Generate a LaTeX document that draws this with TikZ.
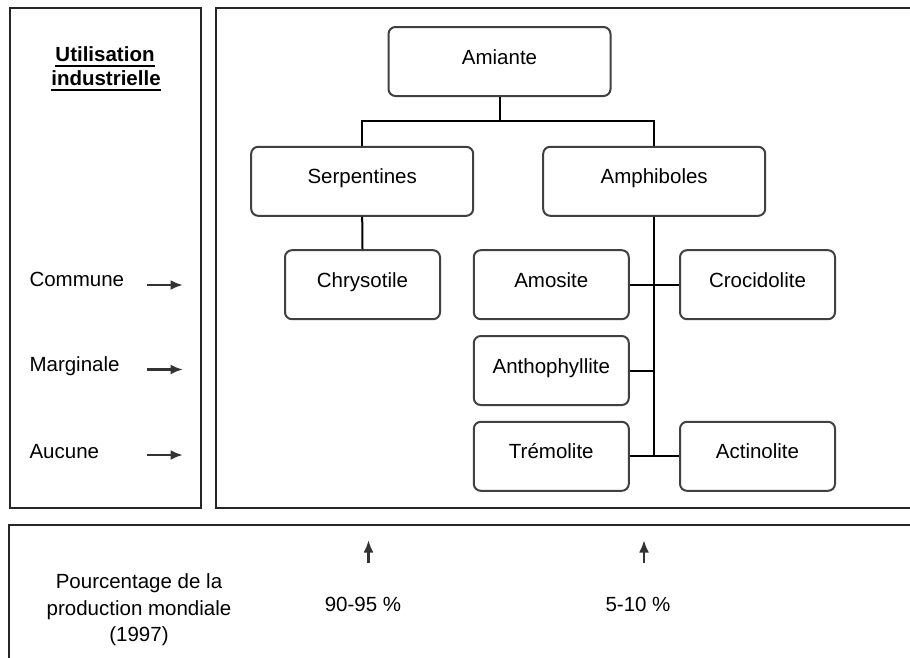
\documentclass[tikz,border=0pt]{standalone}
\usepackage{fontspec}
\setmainfont{Liberation Sans}
\usetikzlibrary{arrows.meta,calc}

% body text size used throughout the chart
\newcommand\chartfont{\fontsize{20.5}{26}\selectfont}
% underlined word with the rule set a little below the baseline
\newcommand\ulword[1]{\setbox0\hbox{#1}\rlap{\rule[-5pt]{\wd0}{1.6pt}}\box0}

\tikzset{
  frame/.style={draw=black!85, line width=2.2pt},
  species/.style={draw=black!75, line width=2pt, rounded corners=7pt,
    minimum height=69pt, inner sep=0pt, text height=15pt, text depth=10pt},
  widebox/.style={species, minimum width=222pt},
  narrowbox/.style={species, minimum width=155pt},
  link/.style={draw=black, line width=2pt},
  pointer/.style={draw=black!80, line width=2.4pt, -{Latex[length=12.5pt,width=10pt]}}
}

\begin{document}
\begin{tikzpicture}[x=1pt, y=-1pt, every node/.append style={font=\chartfont}]
  \useasboundingbox (0,0) rectangle (910,657);
  \clip (0,0) rectangle (910,657);

  % panels
  \draw[frame] (10,8) rectangle (201,508);
  \draw[frame] (216,8) rectangle (930,508);
  \draw[frame] (9,525) rectangle (930,690);

  % industrial use scale
  \node[anchor=base, font=\chartfont\bfseries] (head1) at (105,61.5) {\ulword{Utilisation}};
  \node[anchor=base, font=\chartfont\bfseries] (head2) at (106,85.5) {\ulword{industrielle}};

  \node[anchor=base west] (commune) at (26,286.5) {Commune};
  \node[anchor=base west] (marginale) at (26,371.5) {Marginale};
  \node[anchor=base west] (aucune) at (26,458) {Aucune};

  \coordinate (c1) at (147,285);   \coordinate (c2) at (183,285);
  \coordinate (m1) at (147,369.5); \coordinate (m2) at (183,369.5);
  \coordinate (a1) at (147,455);   \coordinate (a2) at (183,455);
  \draw[pointer] (c1) -- (c2);
  \draw[pointer] (m1) -- (m2);
  \draw[pointer] (a1) -- (a2);

  % asbestos family tree
  \node[widebox] (amiante) at (499.5,61.5) {Amiante};
  \node[widebox] (serp) at (362.2,181.3) {Serpentines};
  \node[widebox] (amph) at (654.2,181.3) {Amphiboles};

  \node[narrowbox] (chrys) at (362.5,284.7) {Chrysotile};
  \node[narrowbox] (amos) at (551.3,284.7) {Amosite};
  \node[narrowbox] (croc) at (757.5,284.7) {Crocidolite};
  \node[narrowbox] (antho) at (551.3,370.5) {Anthophyllite};
  \node[narrowbox] (trem) at (551.3,456.3) {Trémolite};
  \node[narrowbox] (actin) at (757.5,456.3) {Actinolite};

  \coordinate (split) at ($(amiante.south)!0.5!(amiante.south |- serp.north)$);
  \draw[link] (amiante.south) -- (split);
  \draw[link] (serp.north) |- (split) -| (amph.north);
  \draw[link] (serp.south) -- (chrys.north);

  \draw[link] (amph.south) -- (amph.south |- trem.east);
  \draw[link] (amos.east) -- (croc.west);
  \draw[link] (antho.east) -- (amph.south |- antho.east);
  \draw[link] (trem.east) -- (actin.west);

  % share of world production
  \node[align=center, font=\fontsize{20.5}{26.5}\selectfont] (share) at (139,610)
    {Pourcentage de la\\production mondiale\\(1997)};
  \node (serpshare) at (363,604) {90-95 \%};
  \node (amphshare) at (638,604) {5-10 \%};

  \coordinate (s1) at (368.5,563); \coordinate (s2) at (368.5,540);
  \coordinate (p1) at (644,563);   \coordinate (p2) at (644,540);
  \draw[pointer] (s1) -- (s2);
  \draw[pointer] (p1) -- (p2);
\end{tikzpicture}
\end{document}
